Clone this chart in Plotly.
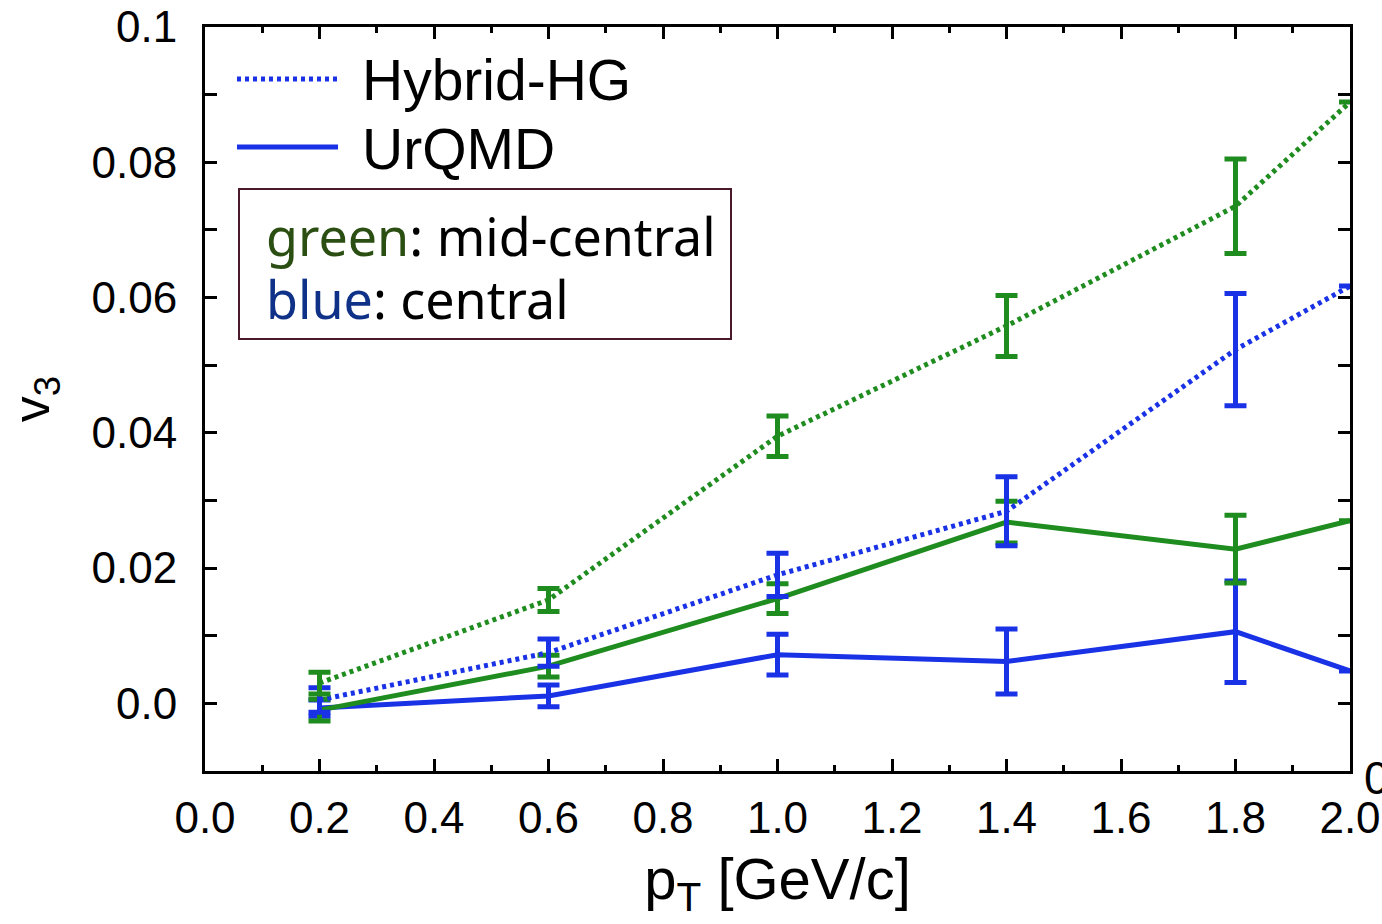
import plotly.graph_objects as go

# transverse momentum bins [GeV/c]
pt = [0.2, 0.6, 1.0, 1.4, 1.8, 2.0]

# Hybrid-HG (dotted), mid-central (green) and central (blue)
hyb_mid = [0.0030, 0.0153, 0.0395, 0.0558, 0.0735, 0.0889]
hyb_mid_err = [0.0016, 0.0017, 0.0030, 0.0045, 0.0070, None]
hyb_cen = [0.0005, 0.0075, 0.0190, 0.0284, 0.0523, 0.0617]
hyb_cen_err = [0.0018, 0.0020, 0.0032, 0.0051, 0.0083, None]

# UrQMD (solid), mid-central (green) and central (blue)
urq_mid = [-0.0010, 0.0055, 0.0155, 0.0268, 0.0228, 0.0270]
urq_mid_err = [0.0016, 0.0016, 0.0022, 0.0031, 0.0050, None]
urq_cen = [-0.0007, 0.0011, 0.0072, 0.0062, 0.0106, 0.0048]
urq_cen_err = [0.0012, 0.0016, 0.0030, 0.0048, 0.0075, None]

y_ticks = [0.0, 0.02, 0.04, 0.06, 0.08, 0.1]
y_ticktext = ["0.0", "0.02", "0.04", "0.06", "0.08", "0.1"]
x_ticks = [0.0, 0.2, 0.4, 0.6, 0.8, 1.0, 1.2, 1.4, 1.6, 1.8, 2.0]
x_ticktext = ["0.0", "0.2", "0.4", "0.6", "0.8", "1.0", "1.2", "1.4", "1.6", "1.8", "2.0"]

GREEN = "#1e8c1e"
BLUE = "#1a32e6"
DOT = "4px,4px"


def series(y, err, color, dotted):
    return go.Scatter(
        x=pt, y=y, mode="lines",
        line=dict(color=color, width=5,
                  dash=DOT if dotted else "solid"),
        error_y=dict(type="data", array=err, visible=True,
                     color=color, thickness=5, width=11),
        showlegend=False, hoverinfo="skip",
    )


fig = go.Figure()
fig.add_trace(series(urq_cen, urq_cen_err, BLUE, False))
fig.add_trace(series(urq_mid, urq_mid_err, GREEN, False))
fig.add_trace(series(hyb_cen, hyb_cen_err, BLUE, True))
fig.add_trace(series(hyb_mid, hyb_mid_err, GREEN, True))

W, H = 1382, 924
L, R, T, B = 205, 32, 27, 153
pw, ph = W - L - R, H - T - B


def px(x):
    return (x - L) / pw


def py(y):
    return (H - B - y) / ph


axis_font = dict(family="Liberation Sans, Arial, sans-serif", size=44, color="black")

fig.update_layout(
    width=W, height=H,
    margin=dict(l=L, r=R, t=T, b=B, pad=0, autoexpand=False),
    paper_bgcolor="white", plot_bgcolor="white",
    xaxis=dict(
        range=[0.0, 2.0], tickmode="array", tickvals=x_ticks, ticktext=x_ticktext,
        ticks="inside", ticklen=12, tickwidth=2.5, tickcolor="black",
        minor=dict(ticks="inside", dtick=0.1, tick0=0, ticklen=6, tickwidth=2.5, tickcolor="black"),
        showline=True, linecolor="black", linewidth=3, mirror="ticks",
        showgrid=False, zeroline=False, automargin=False,
        tickfont=axis_font, ticklabelstandoff=6,
        title=dict(text="p<sub>T</sub> [GeV/c]",
                   font=dict(family="Liberation Sans, Arial, sans-serif", size=58, color="black"),
                   standoff=18),
    ),
    yaxis=dict(
        range=[-0.01, 0.1], tickmode="array", tickvals=y_ticks, ticktext=y_ticktext,
        ticks="inside", ticklen=12, tickwidth=2.5, tickcolor="black",
        minor=dict(ticks="inside", dtick=0.01, tick0=0, ticklen=12, tickwidth=2.5, tickcolor="black"),
        showline=True, linecolor="black", linewidth=3, mirror="ticks",
        showgrid=False, zeroline=False, automargin=False,
        tickfont=axis_font, ticklabelstandoff=16,
        title=dict(text="v<sub>3</sub>",
                   font=dict(family="Liberation Sans, Arial, sans-serif", size=52, color="black"),
                   standoff=26),
    ),
)

# model legend (line samples + labels)
fig.add_shape(type="line", xref="paper", yref="paper",
              x0=px(237), x1=px(338), y0=py(79), y1=py(79),
              line=dict(color=BLUE, width=5, dash=DOT))
fig.add_shape(type="line", xref="paper", yref="paper",
              x0=px(237), x1=px(338), y0=py(147), y1=py(147),
              line=dict(color=BLUE, width=5))
legend_font = dict(family="Liberation Sans, Arial, sans-serif", size=57, color="black")
fig.add_annotation(xref="paper", yref="paper", x=px(360), y=py(80), text="Hybrid-HG",
                   showarrow=False, xanchor="left", yanchor="middle", font=legend_font)
fig.add_annotation(xref="paper", yref="paper", x=px(360), y=py(149), text="UrQMD",
                   showarrow=False, xanchor="left", yanchor="middle", font=legend_font)

# centrality colour key
fig.add_shape(type="rect", xref="paper", yref="paper",
              x0=px(239), x1=px(731), y0=py(339), y1=py(189),
              line=dict(color="#4a1a2c", width=2), fillcolor="white")
key_font = dict(family="Noto Sans, Open Sans, sans-serif", size=52, color="black")
fig.add_annotation(xref="paper", yref="paper", x=px(264), y=py(236),
                   text="<span style='color:#2b4f12'>green</span>: mid-central",
                   showarrow=False, xanchor="left", yanchor="middle", font=key_font)
fig.add_annotation(xref="paper", yref="paper", x=px(264), y=py(298),
                   text="<span style='color:#0f3288'>blue</span>: central",
                   showarrow=False, xanchor="left", yanchor="middle", font=key_font)

# clipped tick label of the adjacent panel
fig.add_annotation(xref="paper", yref="paper", x=px(1362), y=py(778), text="0",
                   showarrow=False, xanchor="left", yanchor="middle",
                   font=dict(family="Liberation Sans, Arial, sans-serif", size=46, color="black"))

fig.write_html("out.html")
